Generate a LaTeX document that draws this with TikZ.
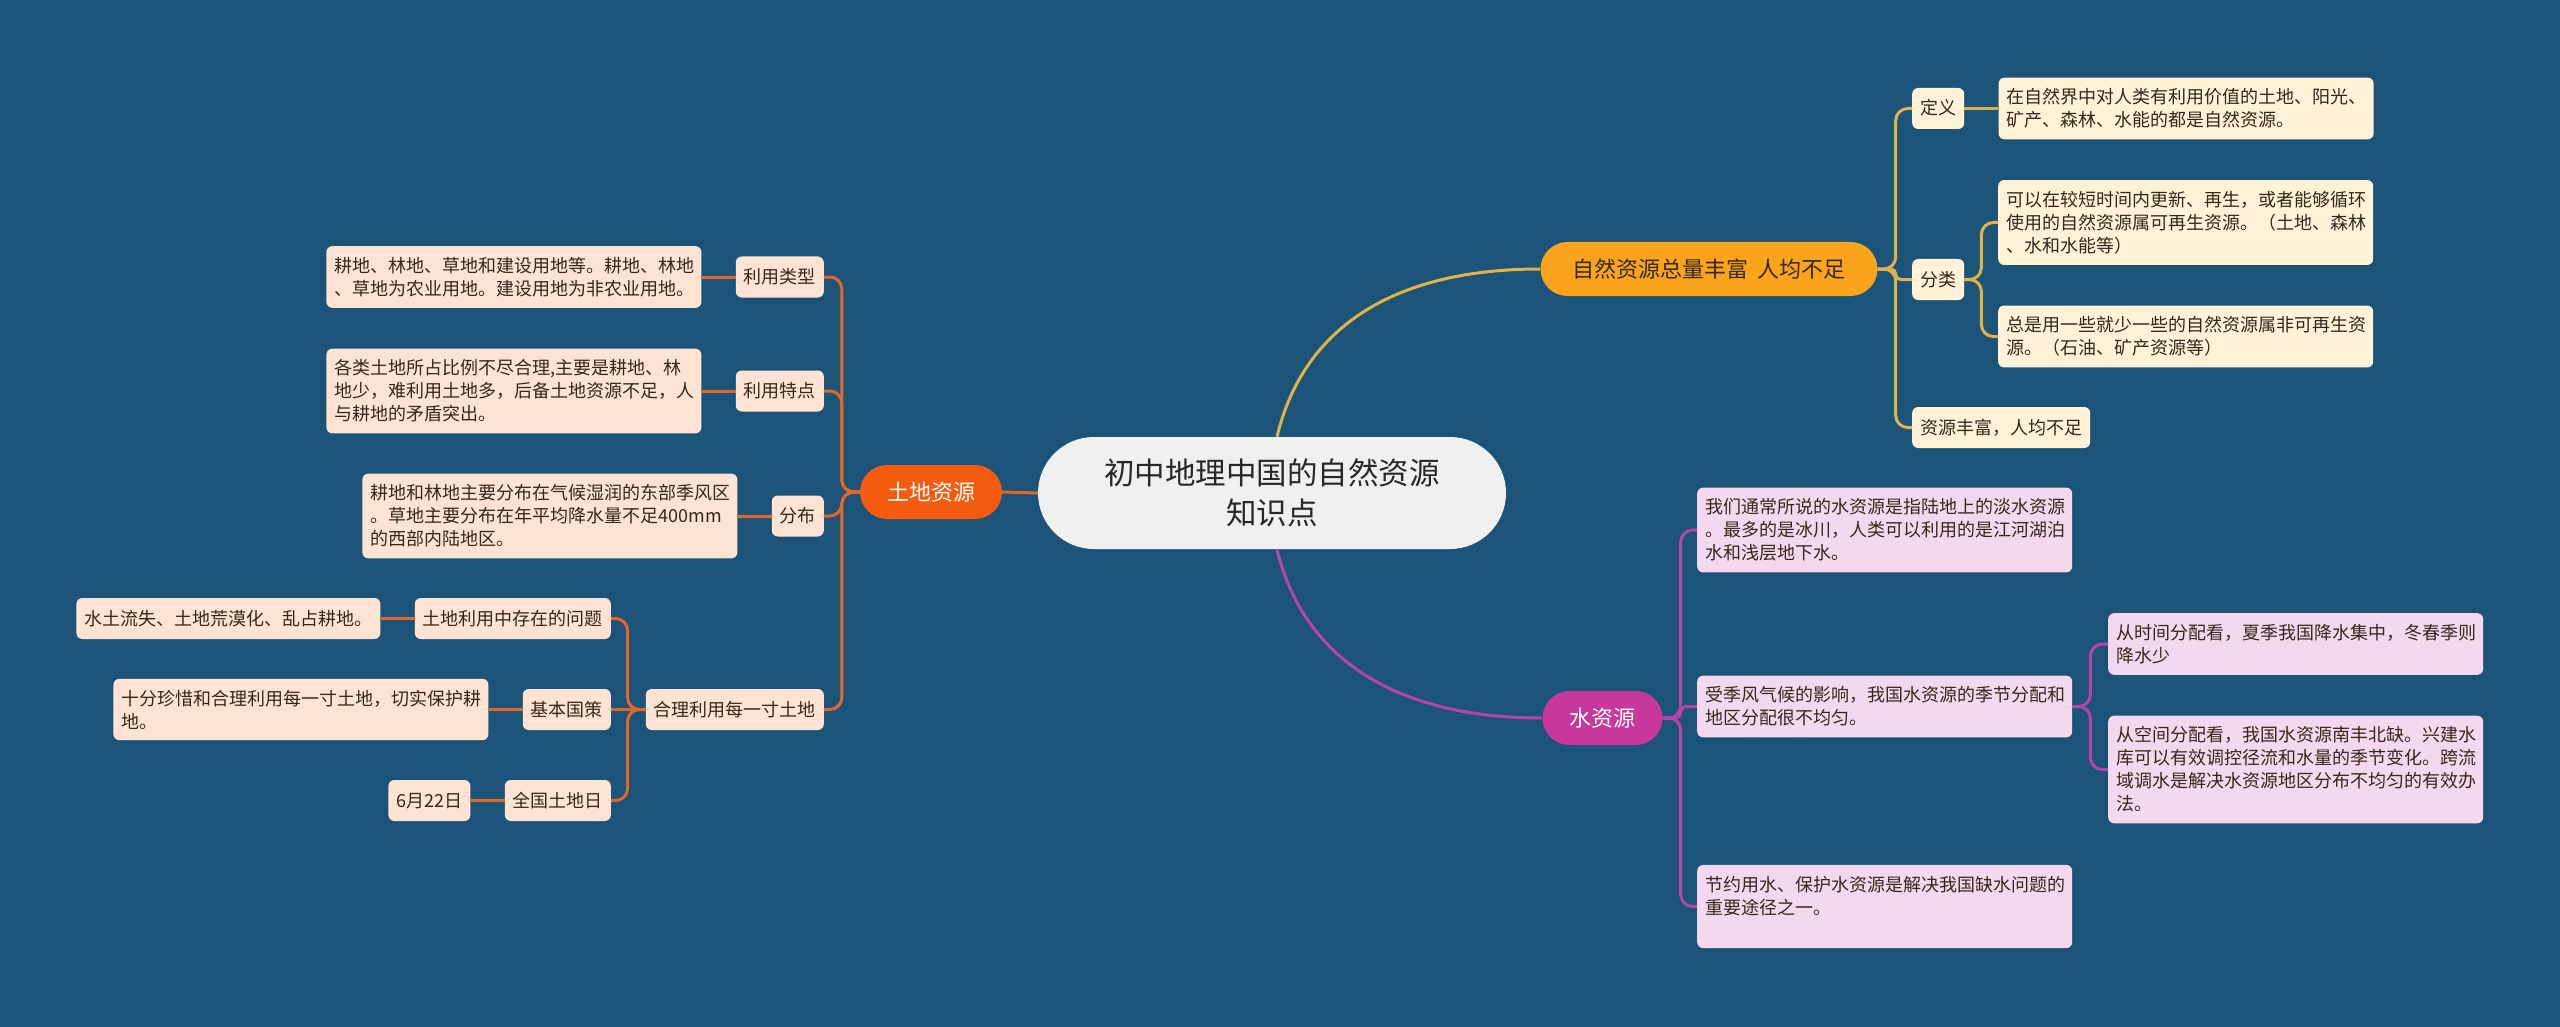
\documentclass[tikz,border=0pt]{standalone}
\usepackage{fontspec}
\usepackage{tikz}
\usetikzlibrary{positioning}
\newfontfamily\cjk{Noto Sans CJK SC}
\definecolor{bgblue}{RGB}{27,84,120}
\definecolor{rootfill}{RGB}{240,240,240}
\definecolor{roottext}{RGB}{40,40,40}
\definecolor{goldmain}{RGB}{250,164,28}
\definecolor{goldedge}{RGB}{228,176,72}
\definecolor{goldpale}{RGB}{255,242,214}
\definecolor{watermain}{RGB}{199,55,156}
\definecolor{wateredge}{RGB}{184,68,170}
\definecolor{waterpale}{RGB}{246,216,238}
\definecolor{landmain}{RGB}{245,92,16}
\definecolor{landedge}{RGB}{228,102,40}
\definecolor{landpale}{RGB}{254,226,210}
\definecolor{inktext}{RGB}{52,40,28}

\begin{document}
\begin{tikzpicture}[x=1pt,y=-1pt,node distance=34pt,
  rootbox/.style={fill=rootfill,text=roottext,rounded corners=56pt,minimum width=468pt,minimum height=112pt,align=center,font=\cjk\fontsize{30.5}{40}\selectfont},
  pill/.style={rounded corners=27pt,minimum height=54pt,inner xsep=0pt,text height=19pt,text depth=3pt,font=\cjk\fontsize{22}{28}\selectfont},
  leaf/.style={rounded corners=6pt,inner xsep=8pt,inner ysep=11pt,text=inktext,font=\cjk\fontsize{18}{23}\selectfont},
  tagbox/.style={leaf,text height=16pt,text depth=3pt},
  parabox/.style={leaf,text width=359pt,align=left},
  goldline/.style={draw=goldedge,line width=3pt,rounded corners=12pt},
  waterline/.style={draw=wateredge,line width=3pt,rounded corners=12pt},
  landline/.style={draw=landedge,line width=3pt,rounded corners=12pt}]
\fill[bgblue] (0,0) rectangle (2560,1027);

\node (root) [rootbox] at (1272,493) {初中地理中国的自然资源\\知识点};
\node (b1) [pill,fill=goldmain,text=inktext,minimum width=337pt] at (1709,269) {自然资源总量丰富\hspace{0.4em}人均不足};
\node (b2) [pill,fill=watermain,text=white,minimum width=120pt] at (1602.5,718) {水资源};
\node (b3) [pill,fill=landmain,text=white,minimum width=142pt] at (931,492) {土地资源};

\node (def) [tagbox,fill=goldpale,anchor=west] at (1912,108.5) {定义};
\node (defText) [parabox,fill=goldpale,right=of def] {在自然界中对人类有利用价值的土地、阳光、\\矿产、森林、水能的都是自然资源。};
\node (cls) [tagbox,fill=goldpale,anchor=west] at (1912,279.5) {分类};
\node (clsA) [parabox,fill=goldpale,anchor=west] at (1998,222.5) {可以在较短时间内更新、再生，或者能够循环\\使用的自然资源属可再生资源。（土地、森林\\、水和水能等）};
\node (clsB) [parabox,fill=goldpale,anchor=west] at (1998,336.5) {总是用一些就少一些的自然资源属非可再生资\\源。（石油、矿产资源等）};
\node (rich) [tagbox,fill=goldpale,anchor=west] at (1912,427.5) {资源丰富，人均不足};

\node (w1) [parabox,fill=waterpale,anchor=west] at (1697,530) {我们通常所说的水资源是指陆地上的淡水资源\\。最多的是冰川，人类可以利用的是江河湖泊\\水和浅层地下水。};
\node (w2) [parabox,fill=waterpale,anchor=west] at (1697,706.5) {受季风气候的影响，我国水资源的季节分配和\\地区分配很不均匀。};
\node (w3) [parabox,fill=waterpale,anchor=west] at (1697,906.5) {节约用水、保护水资源是解决我国缺水问题的\\重要途径之一。\\\mbox{}};
\node (w2a) [parabox,fill=waterpale,anchor=west] at (2108,644) {从时间分配看，夏季我国降水集中，冬春季则\\降水少};
\node (w2b) [parabox,fill=waterpale,anchor=west] at (2108,769.5) {从空间分配看，我国水资源南丰北缺。兴建水\\库可以有效调控径流和水量的季节变化。跨流\\域调水是解决水资源地区分布不均匀的有效办\\法。};

\node (lt) [tagbox,fill=landpale,anchor=east] at (824,277) {利用类型};
\node (ltText) [parabox,fill=landpale,left=of lt] {耕地、林地、草地和建设用地等。耕地、林地\\、草地为农业用地。建设用地为非农业用地。};
\node (lf) [tagbox,fill=landpale,anchor=east] at (824,391) {利用特点};
\node (lfText) [parabox,fill=landpale,left=of lf] {各类土地所占比例不尽合理,主要是耕地、林\\地少，难利用土地多，后备土地资源不足，人\\与耕地的矛盾突出。};
\node (dist) [tagbox,fill=landpale,anchor=east] at (824,516) {分布};
\node (distText) [parabox,fill=landpale,left=of dist] {耕地和林地主要分布在气候湿润的东部季风区\\。草地主要分布在年平均降水量不足400mm\\的西部内陆地区。};
\node (use) [tagbox,fill=landpale,anchor=east] at (824,709.5) {合理利用每一寸土地};
\node (prob) [tagbox,fill=landpale,anchor=east] at (611,618.5) {土地利用中存在的问题};
\node (probText) [tagbox,fill=landpale,left=of prob] {水土流失、土地荒漠化、乱占耕地。};
\node (pol) [tagbox,fill=landpale,anchor=east] at (611,709.5) {基本国策};
\node (polText) [parabox,fill=landpale,left=of pol] {十分珍惜和合理利用每一寸土地，切实保护耕\\地。};
\node (day) [tagbox,fill=landpale,anchor=east] at (611,800.5) {全国土地日};
\node (date) [tagbox,fill=landpale,left=of day] {6月22日};

\draw[landline] (root.west) -- (b3.east);
\draw[goldline] ([xshift=5pt]root.north) .. controls +(23,-97) and +(-162,0) .. (b1.west);
\draw[waterline] ([xshift=5pt]root.south) .. controls +(23,97) and +(-162,0) .. (b2.west);

\draw[goldline] (b1.east) -- ++(18,0) |- (def.west);
\draw[goldline,rounded corners=5pt] (b1.east) -- ++(18,0) |- (cls.west);
\draw[goldline] (b1.east) -- ++(18,0) |- (rich.west);
\draw[goldline] (def.east) -- (defText.west);
\draw[goldline] (cls.east) -- ++(17,0) |- (clsA.west);
\draw[goldline] (cls.east) -- ++(17,0) |- (clsB.west);

\draw[waterline] (b2.east) -- ++(18,0) |- (w1.west);
\draw[waterline,rounded corners=5pt] (b2.east) -- ++(18,0) |- (w2.west);
\draw[waterline] (b2.east) -- ++(18,0) |- (w3.west);
\draw[waterline] (w2.east) -- ++(18,0) |- (w2a.west);
\draw[waterline] (w2.east) -- ++(18,0) |- (w2b.west);

\draw[landline] (b3.west) -- ++(-18,0) |- (lt.east);
\draw[landline] (b3.west) -- ++(-18,0) |- (lf.east);
\draw[landline] (b3.west) -- ++(-18,0) |- (dist.east);
\draw[landline] (b3.west) -- ++(-18,0) |- (use.east);
\draw[landline] (lt.west) -- (ltText.east);
\draw[landline] (lf.west) -- (lfText.east);
\draw[landline] (dist.west) -- (distText.east);
\draw[landline] (use.west) -- ++(-18,0) |- (prob.east);
\draw[landline] (use.west) -- (pol.east);
\draw[landline] (use.west) -- ++(-18,0) |- (day.east);
\draw[landline] (prob.west) -- (probText.east);
\draw[landline] (pol.west) -- (polText.east);
\draw[landline] (day.west) -- (date.east);
\end{tikzpicture}
\end{document}
